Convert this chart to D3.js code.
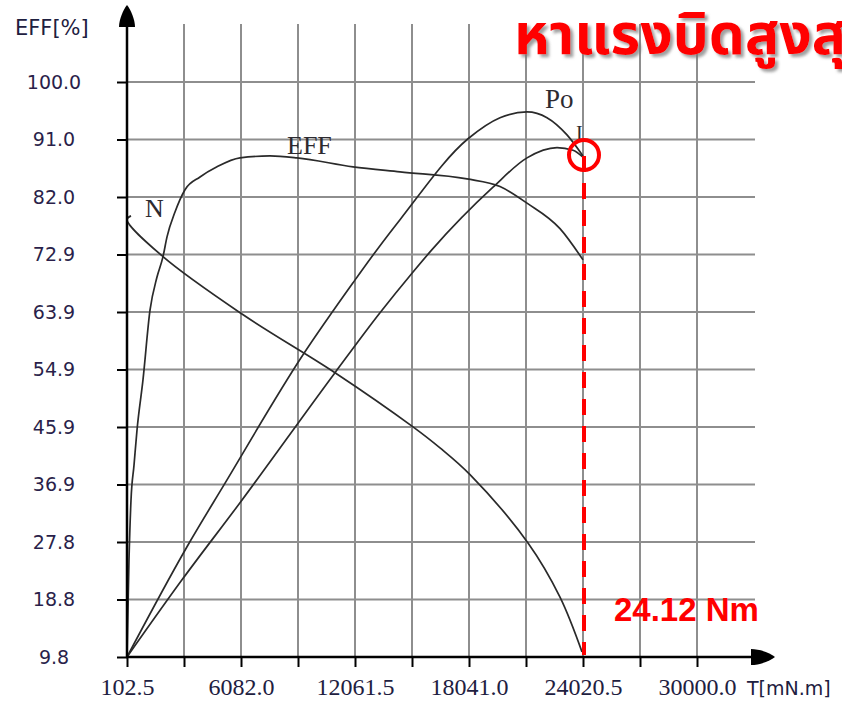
<!DOCTYPE html>
<html>
<head>
<meta charset="utf-8">
<script src="https://cdn.jsdelivr.net/npm/d3@7"></script>
<style>
  body { margin: 0; background: #fff; }
  svg { display: block; }
</style>
</head>
<body>
<svg id="chart" width="842" height="702"></svg>
<script>
// tick labels
const xTickLabels = ['102.5', '6082.0', '12061.5', '18041.0', '24020.5', '30000.0'];
const yTickLabels = ['9.8', '18.8', '27.8', '36.9', '45.9', '54.9', '63.9', '72.9', '82.0', '91.0', '100.0'];

// EFF curve (torque mN.m, %)
const effT = [102.5, 207, 312, 470, 627, 942, 1309, 1676, 1991, 2201, 2620, 3145, 3932, 4823, 6030, 7603, 9019, 11957, 14422, 17936, 19667, 21083, 22814, 24020.5];
const effV = [9.8, 25.0, 34.4, 39.9, 45.4, 53.3, 64.2, 69.4, 72.6, 75.7, 79.6, 83.1, 85.1, 86.7, 88.1, 88.4, 88.1, 86.7, 85.9, 84.8, 83.6, 81.0, 77.0, 72.1];

// Po curve
const poT = [102.5, 3250, 5190, 9334, 11957, 13216, 14422, 17989, 19667, 21083, 22132, 23181, 24020.5];
const poV = [9.8, 27.1, 36.8, 57.2, 68.5, 73.7, 78.4, 91.1, 94.4, 95.3, 94.4, 91.7, 88.4];

// I curve
const curT = [102.5, 2987, 6030, 11013, 13373, 15051, 16100, 19300, 21083, 22657, 23496, 24020.5];
const curV = [9.8, 21.9, 34.0, 54.4, 63.8, 70.0, 73.7, 83.5, 88.1, 89.7, 89.3, 88.2];

// N curve
const nT = [312, 102.5, 1991, 6135, 11013, 15104, 16520, 18094, 21136, 22814, 23968];
const nV = [79.0, 78.4, 72.6, 63.6, 54.4, 45.9, 42.6, 38.4, 27.7, 19.2, 10.6];

const maxTorque = 24020.5;

const svg = d3.select('#chart');

const x = d3.scaleLinear().domain([102.5, 30000]).range([127, 697]);
const y = d3.scaleLinear().domain([9.8, 100]).range([657, 82]);

const gridT = d3.range(11).map(i => 102.5 + i * 2989.75);
const gridV = d3.range(11).map(i => 9.8 + i * 9.02);

const gridColor = '#8e8e8e';
const lineColor = '#2a2a2a';

// grid
const grid = svg.append('g');
grid.selectAll('line.v')
  .data(gridT.slice(1))
  .enter().append('line')
  .attr('x1', d => x(d)).attr('x2', d => x(d))
  .attr('y1', 24).attr('y2', 657)
  .attr('stroke', gridColor).attr('stroke-width', 2);
grid.selectAll('line.h')
  .data(gridV.slice(1))
  .enter().append('line')
  .attr('x1', 127).attr('x2', 755)
  .attr('y1', d => y(d)).attr('y2', d => y(d))
  .attr('stroke', gridColor).attr('stroke-width', 2);

// curves
const smooth = d3.line()
  .x(d => x(d[0]))
  .y(d => y(d[1]))
  .curve(d3.curveMonotoneX);
const loose = d3.line()
  .x(d => x(d[0]))
  .y(d => y(d[1]))
  .curve(d3.curveCatmullRom.alpha(0.5));

const series = [
  { pts: d3.zip(effT, effV), gen: smooth },
  { pts: d3.zip(poT, poV), gen: smooth },
  { pts: d3.zip(curT, curV), gen: smooth },
  { pts: d3.zip(nT, nV), gen: loose }
];
svg.selectAll('path.curve')
  .data(series)
  .enter().append('path')
  .attr('d', d => d.gen(d.pts))
  .attr('fill', 'none')
  .attr('stroke', lineColor)
  .attr('stroke-width', 1.7);

// axes
const xAxis = svg.append('g')
  .attr('transform', 'translate(0,657)')
  .call(d3.axisBottom(x)
    .tickValues(gridT)
    .tickSize(10)
    .tickPadding(11)
    .tickFormat((d, i) => i % 2 === 0 ? xTickLabels[i / 2] : ''));
xAxis.select('.domain').remove();
xAxis.selectAll('line').attr('stroke', '#000').attr('stroke-width', 2);
xAxis.selectAll('text')
  .attr('fill', '#1e2040')
  .style('font-family', '"Liberation Serif", serif')
  .style('font-size', '24px');

const yAxis = svg.append('g')
  .attr('transform', 'translate(127,0)')
  .call(d3.axisLeft(y)
    .tickValues(gridV)
    .tickSize(10)
    .tickFormat((d, i) => yTickLabels[i]));
yAxis.select('.domain').remove();
yAxis.selectAll('line').attr('stroke', '#000').attr('stroke-width', 2);
yAxis.selectAll('text')
  .attr('x', -73)
  .attr('text-anchor', 'middle')
  .attr('fill', '#2a1f4a')
  .style('font-family', '"DejaVu Sans", sans-serif')
  .style('font-size', '19px');

// axis lines with arrows
svg.append('line')
  .attr('x1', 127).attr('x2', 127).attr('y1', 658).attr('y2', 24)
  .attr('stroke', '#000').attr('stroke-width', 2.5);
svg.append('line')
  .attr('x1', 126).attr('x2', 755).attr('y1', 657).attr('y2', 657)
  .attr('stroke', '#000').attr('stroke-width', 2.5);
svg.append('path')
  .attr('d', 'M127,5 C131,10 135,20 135,27 L119,27 C119,20 123,10 127,5 Z')
  .attr('fill', '#000');
svg.append('path')
  .attr('d', 'M775,657 C770,661 760,665 751,665 L751,649 C760,649 770,653 775,657 Z')
  .attr('fill', '#000');

// axis titles
svg.append('text')
  .attr('x', 15).attr('y', 35)
  .attr('fill', '#1e2040')
  .style('font-family', '"DejaVu Sans", sans-serif')
  .style('font-size', '21px')
  .text('EFF[%]');
svg.append('text')
  .attr('x', 747).attr('y', 695)
  .attr('fill', '#1e2040')
  .style('font-family', '"DejaVu Sans", sans-serif')
  .style('font-size', '19px')
  .text('T[mN.m]');

// curve labels
const serif = '"Liberation Serif", serif';
[
  { t: 'Po', x: 545, y: 108, s: 27 },
  { t: 'EFF', x: 287, y: 154, s: 26 },
  { t: 'N', x: 145, y: 217, s: 26 },
  { t: 'I', x: 576, y: 140, s: 20 }
].forEach(l => {
  svg.append('text')
    .attr('x', l.x).attr('y', l.y)
    .attr('fill', '#2d2a30')
    .style('font-family', serif)
    .style('font-size', l.s + 'px')
    .text(l.t);
});

// red annotations
const defs = svg.append('defs');
const f = defs.append('filter').attr('id', 'shadow')
  .attr('x', '-10%').attr('y', '-20%').attr('width', '130%').attr('height', '160%');
f.append('feDropShadow')
  .attr('dx', 3).attr('dy', 3).attr('stdDeviation', 1.5)
  .attr('flood-color', '#777').attr('flood-opacity', 0.7);

// title runs off the right edge, as in the original slide
svg.append('text')
  .attr('x', 514).attr('y', 54)
  .attr('fill', '#ff0000')
  .attr('filter', 'url(#shadow)')
  .style('font-family', 'Tahoma, "Noto Sans Thai", "Noto Sans", sans-serif')
  .style('font-weight', 'bold')
  .style('font-size', '57px')
  .text('หาแรงบิดสูงสุด');

svg.append('line')
  .attr('x1', x(maxTorque) + 1).attr('x2', x(maxTorque) + 1)
  .attr('y1', 156).attr('y2', 655)
  .attr('stroke', '#ff0000').attr('stroke-width', 4)
  .attr('stroke-dasharray', '16 11');
svg.append('circle')
  .attr('cx', x(maxTorque) + 1).attr('cy', 155).attr('r', 15)
  .attr('fill', 'none')
  .attr('stroke', '#ff0000').attr('stroke-width', 4);

svg.append('text')
  .attr('x', 614).attr('y', 621)
  .attr('fill', '#ff0000')
  .style('font-family', '"Liberation Sans", Arial, sans-serif')
  .style('font-weight', 'bold')
  .style('font-size', '33px')
  .text('24.12 Nm');
</script>
</body>
</html>
